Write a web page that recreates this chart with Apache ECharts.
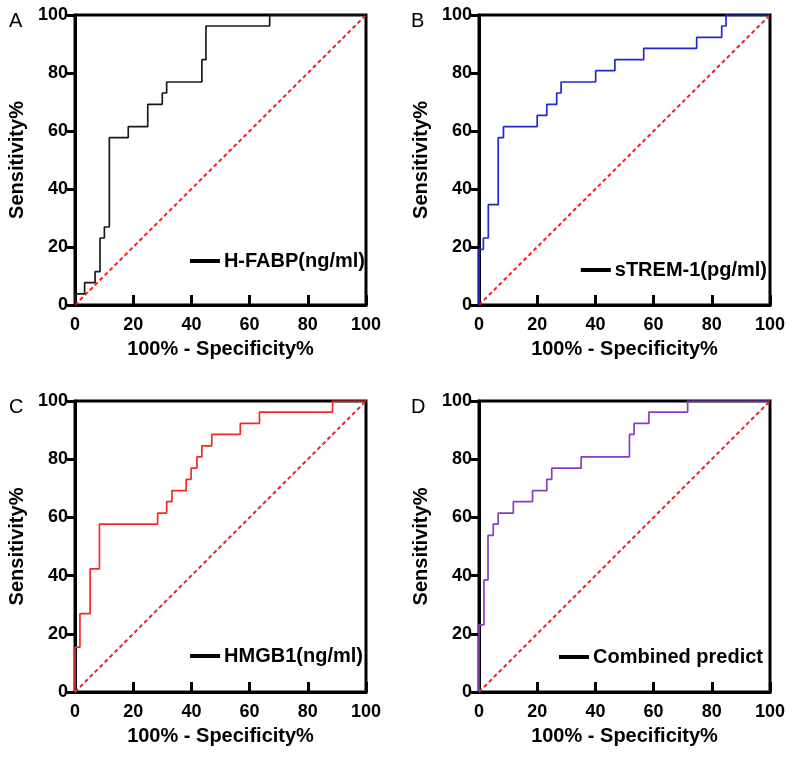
<!DOCTYPE html>
<html>
<head>
<meta charset="utf-8">
<script src="https://cdn.jsdelivr.net/npm/echarts@6/dist/echarts.min.js"></script>
<style>html,body{margin:0;padding:0;background:#fff}#c{width:792px;height:759px}</style>
</head>
<body>
<div id="c"></div>
<script>
// Panel letters & series names
const panelLetters = ['A', 'B', 'C', 'D'];
const seriesNames = ['H-FABP(ng/ml)', 'sTREM-1(pg/ml)', 'HMGB1(ng/ml)', 'Combined predict'];
const xTicks = [0, 20, 40, 60, 80, 100];
const yTicks = [0, 20, 40, 60, 80, 100];
const xTitle = '100% - Specificity%';
const yTitle = 'Sensitivity%';

// ROC points: 100% - Specificity% (x) and Sensitivity% (y)
const hfabpX = [0, 0, 3.3, 6.9, 8.6, 10.1, 11.8, 18.3, 25.0, 30.0, 31.5, 43.6, 45.0, 66.9, 100];
const hfabpY = [0, 3.85, 7.69, 11.5, 23.1, 26.9, 57.7, 61.5, 69.2, 73.1, 76.9, 84.6, 96.2, 100, 100];

const strem1X = [0, 0, 1.5, 3.2, 6.6, 8.4, 20.0, 23.3, 26.7, 28.2, 40.1, 46.7, 56.6, 74.8, 83.4, 84.9, 100];
const strem1Y = [0, 19.2, 23.1, 34.6, 57.7, 61.5, 65.4, 69.2, 73.1, 76.9, 80.8, 84.6, 88.5, 92.3, 96.2, 100, 100];

const hmgb1X = [0, 0, 1.7, 5.2, 8.4, 28.4, 31.5, 33.3, 38.2, 39.9, 41.9, 43.6, 47.0, 56.8, 63.4, 88.5, 100];
const hmgb1Y = [0, 15.4, 26.9, 42.3, 57.7, 61.5, 65.4, 69.2, 73.1, 76.9, 80.8, 84.6, 88.5, 92.3, 96.2, 100, 100];

const combX = [0, 0, 1.7, 3.1, 4.9, 6.6, 11.8, 18.4, 23.3, 25.0, 35.1, 51.7, 53.3, 58.4, 71.7, 100];
const combY = [0, 23.1, 38.5, 53.8, 57.7, 61.5, 65.4, 69.2, 73.1, 76.9, 80.8, 88.5, 92.3, 96.2, 100, 100];

const refX = [0, 100];
const refY = [0, 100];

const curvesX = [hfabpX, strem1X, hmgb1X, combX];
const curvesY = [hfabpY, strem1Y, hmgb1Y, combY];
const colors = ['#1a1a1a', '#1f2ad4', '#f42a2a', '#8a3cc4'];

const grids = [
  {left: 75, top: 15, width: 291, height: 290},
  {left: 479, top: 15, width: 291, height: 290},
  {left: 75, top: 401, width: 291, height: 291},
  {left: 479, top: 401, width: 291, height: 291}
];
const legendPos = [
  {right: 427, top: 251},
  {right: 25, top: 260},
  {right: 429, top: 646},
  {right: 29, top: 647}
];
const letterPos = [{left: 4, top: 6}, {left: 406, top: 6}, {left: 4, top: 392}, {left: 406, top: 392}];

const font = 'Liberation Sans, Arial, sans-serif';
const zip = (xs, ys) => xs.map((x, i) => [x, ys[i]]);

const option = {
  animation: false,
  backgroundColor: '#fff',
  title: panelLetters.map((t, i) => ({
    text: t, left: letterPos[i].left, top: letterPos[i].top,
    textStyle: {fontFamily: font, fontWeight: 'normal', fontSize: 20, color: '#000'}
  })),
  grid: grids.map(g => Object.assign({show: true, borderColor: '#000', borderWidth: 3, backgroundColor: 'transparent'}, g)),
  legend: seriesNames.map((n, i) => ({
    data: [{name: n, icon: 'rect', itemStyle: {color: '#000'}}],
    right: legendPos[i].right, top: legendPos[i].top,
    itemWidth: 30, itemHeight: 4, itemGap: 4, padding: 0,
    selectedMode: false,
    textStyle: {fontFamily: font, fontWeight: 'bold', fontSize: 20, color: '#000', padding: [0, 0, 0, -1]}
  })),
  xAxis: grids.map((g, i) => ({
    type: 'value', gridIndex: i, min: xTicks[0], max: xTicks[xTicks.length - 1], interval: 20,
    name: xTitle, nameLocation: 'middle', nameGap: 34,
    nameTextStyle: {fontFamily: font, fontWeight: 'bold', fontSize: 20, color: '#000'},
    axisLine: {show: true, lineStyle: {color: '#000', width: 3}},
    axisTick: {show: true, inside: true, length: 10, lineStyle: {color: '#000', width: 3}},
    axisLabel: {fontFamily: font, fontWeight: 'bold', fontSize: 18, color: '#000', margin: 11},
    splitLine: {show: false}
  })),
  yAxis: grids.map((g, i) => ({
    type: 'value', gridIndex: i, min: yTicks[0], max: yTicks[yTicks.length - 1], interval: 20,
    name: yTitle, nameLocation: 'middle', nameGap: 48, nameRotate: 90,
    nameTextStyle: {fontFamily: font, fontWeight: 'bold', fontSize: 20, color: '#000'},
    axisLine: {show: true, lineStyle: {color: '#000', width: 3}},
    axisTick: {show: true, inside: false, length: 8, lineStyle: {color: '#000', width: 3}},
    axisLabel: {fontFamily: font, fontWeight: 'bold', fontSize: 18, color: '#000', margin: 7},
    splitLine: {show: false}
  })),
  series: []
};

for (let i = 0; i < 4; i++) {
  option.series.push({
    type: 'line', name: 'ref' + i, xAxisIndex: i, yAxisIndex: i,
    data: zip(refX, refY), showSymbol: false, silent: true,
    lineStyle: {color: '#ff1a1a', width: 2, type: [4, 3]}, z: 2
  });
  option.series.push({
    type: 'line', name: seriesNames[i], xAxisIndex: i, yAxisIndex: i,
    data: zip(curvesX[i], curvesY[i]), step: 'end', showSymbol: false,
    lineStyle: {color: colors[i], width: 1.7}, itemStyle: {color: colors[i]}, z: 3
  });
}

const chart = echarts.init(document.getElementById('c'), null, {renderer: 'canvas'});
chart.setOption(option);
</script>
</body>
</html>
